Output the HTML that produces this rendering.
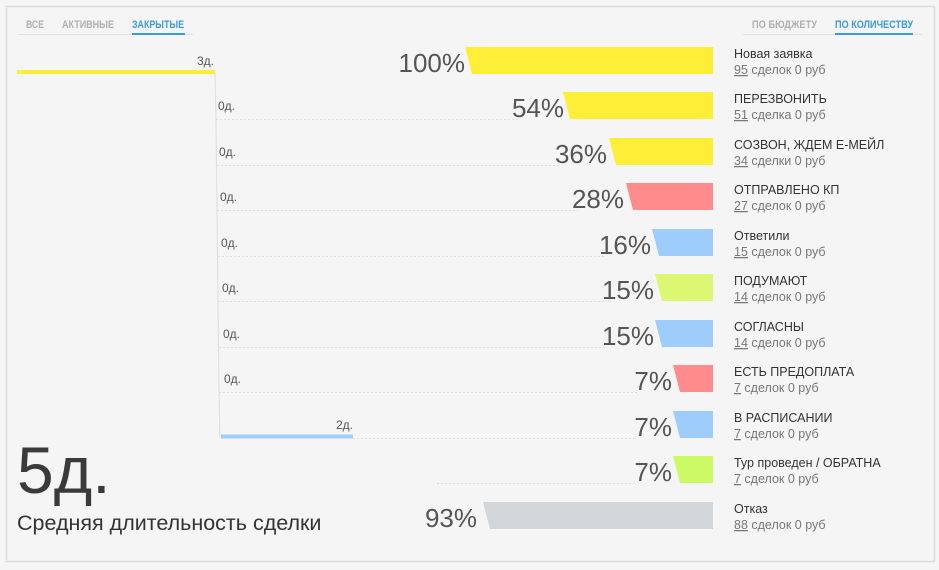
<!DOCTYPE html>
<html><head><meta charset="utf-8"><style>
html,body{margin:0;padding:0;background:#f5f5f5;}
svg{display:block;font-family:"Liberation Sans","DejaVu Sans",sans-serif;}
</style></head><body>
<svg width="939" height="570" viewBox="0 0 939 570" xmlns="http://www.w3.org/2000/svg">
<rect x="0" y="0" width="939" height="570" fill="#f5f5f5"/>
<rect x="6.5" y="6.5" width="928" height="555" fill="#f5f5f5" stroke="#dcdcdc" stroke-width="1.5"/>
<!-- tabs -->
<g font-size="11" font-weight="bold">
<text x="26" y="28" fill="#b0b0b0" textLength="18" lengthAdjust="spacingAndGlyphs">ВСЕ</text>
<text x="62" y="28" fill="#b0b0b0" textLength="52" lengthAdjust="spacingAndGlyphs">АКТИВНЫЕ</text>
<text x="132" y="28" fill="#3b9ad9" textLength="52" lengthAdjust="spacingAndGlyphs">ЗАКРЫТЫЕ</text>
<text x="752" y="28" fill="#b0b0b0" textLength="65" lengthAdjust="spacingAndGlyphs">ПО БЮДЖЕТУ</text>
<text x="835" y="28" fill="#3b9ad9" textLength="78" lengthAdjust="spacingAndGlyphs">ПО КОЛИЧЕСТВУ</text>
</g>
<line x1="18" y1="34.5" x2="193" y2="34.5" stroke="#e2e2e2"/>
<line x1="132" y1="34" x2="185" y2="34" stroke="#3b9ad9" stroke-width="2"/>
<line x1="743" y1="34.5" x2="922" y2="34.5" stroke="#e2e2e2"/>
<line x1="835" y1="34" x2="913" y2="34" stroke="#3b9ad9" stroke-width="2"/>
<!-- timeline -->
<line x1="17" y1="72" x2="215" y2="72" stroke="#fdee37" stroke-width="4"/>
<polyline points="215,74 216,120 216.5,165 217,211 217.5,256 218,302 218.5,347 219,393 220,438" fill="none" stroke="#e0e0e0" stroke-width="1.2"/>
<line x1="221" y1="436.5" x2="353" y2="436.5" stroke="#9fcdfb" stroke-width="4"/>
<g font-size="12" fill="#555">
<text x="214" y="65" text-anchor="end">3д.</text>
<text x="218" y="110">0д.</text>
<text x="219" y="156">0д.</text>
<text x="220" y="201">0д.</text>
<text x="221" y="247">0д.</text>
<text x="222" y="292">0д.</text>
<text x="223" y="338">0д.</text>
<text x="224" y="383">0д.</text>
<text x="353" y="429" text-anchor="end">2д.</text>
</g>
<!-- dotted lines -->
<g stroke="#dedede" stroke-dasharray="2,2" stroke-width="1">
<line x1="216" y1="119.5" x2="520" y2="119.5"/>
<line x1="217" y1="165.5" x2="560" y2="165.5"/>
<line x1="217" y1="210.5" x2="578" y2="210.5"/>
<line x1="218" y1="256.5" x2="604" y2="256.5"/>
<line x1="218" y1="301.5" x2="607" y2="301.5"/>
<line x1="219" y1="347.5" x2="607" y2="347.5"/>
<line x1="219" y1="392.5" x2="637" y2="392.5"/>
<line x1="353" y1="438.5" x2="637" y2="438.5"/>
<line x1="437" y1="483.5" x2="637" y2="483.5"/>
</g>
<!-- bars -->
<g>
<polygon points="465,47 713,47 713,74 472,74" fill="#fdee37"/>
<polygon points="563,92 713,92 713,119 570,119" fill="#fdee37"/>
<polygon points="609,138 713,138 713,165 616,165" fill="#fdee37"/>
<polygon points="626,183 713,183 713,210 633,210" fill="#ff8c8c"/>
<polygon points="652,229 713,229 713,256 659,256" fill="#9fcdfb"/>
<polygon points="655,274 713,274 713,301 662,301" fill="#dcf872"/>
<polygon points="655,320 713,320 713,347 662,347" fill="#9fcdfb"/>
<polygon points="673,365 713,365 713,392 680,392" fill="#ff8c8c"/>
<polygon points="673,411 713,411 713,438 680,438" fill="#9fcdfb"/>
<polygon points="673,456 713,456 713,483 680,483" fill="#ccfa66"/>
<polygon points="483,502 713,502 713,529 490,529" fill="#d3d6d9"/>
</g>
<g font-size="26" fill="#555" text-anchor="end">
<text x="465" y="72">100%</text>
<text x="564" y="117">54%</text>
<text x="607" y="163">36%</text>
<text x="624" y="208">28%</text>
<text x="651" y="254">16%</text>
<text x="654" y="299">15%</text>
<text x="654" y="345">15%</text>
<text x="672" y="390">7%</text>
<text x="672" y="436">7%</text>
<text x="672" y="481">7%</text>
<text x="477" y="527">93%</text>
</g>
<!-- labels -->
<g font-size="12.5" fill="#333">
<text x="734" y="58">Новая заявка</text>
<text x="734" y="103">ПЕРЕЗВОНИТЬ</text>
<text x="734" y="149">СОЗВОН, ЖДЕМ Е-МЕЙЛ</text>
<text x="734" y="194">ОТПРАВЛЕНО КП</text>
<text x="734" y="240">Ответили</text>
<text x="734" y="285">ПОДУМАЮТ</text>
<text x="734" y="331">СОГЛАСНЫ</text>
<text x="734" y="376">ЕСТЬ ПРЕДОПЛАТА</text>
<text x="734" y="422">В РАСПИСАНИИ</text>
<text x="734" y="467">Тур проведен / ОБРАТНА</text>
<text x="734" y="513">Отказ</text>
</g>
<g font-size="12.5" fill="#777">
<text x="734" y="74"><tspan text-decoration="underline">95</tspan> сделок 0 руб</text>
<text x="734" y="119"><tspan text-decoration="underline">51</tspan> сделка 0 руб</text>
<text x="734" y="165"><tspan text-decoration="underline">34</tspan> сделки 0 руб</text>
<text x="734" y="210"><tspan text-decoration="underline">27</tspan> сделок 0 руб</text>
<text x="734" y="256"><tspan text-decoration="underline">15</tspan> сделок 0 руб</text>
<text x="734" y="301"><tspan text-decoration="underline">14</tspan> сделок 0 руб</text>
<text x="734" y="347"><tspan text-decoration="underline">14</tspan> сделок 0 руб</text>
<text x="734" y="392"><tspan text-decoration="underline">7</tspan> сделок 0 руб</text>
<text x="734" y="438"><tspan text-decoration="underline">7</tspan> сделок 0 руб</text>
<text x="734" y="483"><tspan text-decoration="underline">7</tspan> сделок 0 руб</text>
<text x="734" y="529"><tspan text-decoration="underline">88</tspan> сделок 0 руб</text>
</g>
<text x="17" y="493" font-size="66" fill="#3a3a3a">5д.</text>
<text x="17" y="530" font-size="21.5" fill="#333">Средняя длительность сделки</text>
</svg>
</body></html>
